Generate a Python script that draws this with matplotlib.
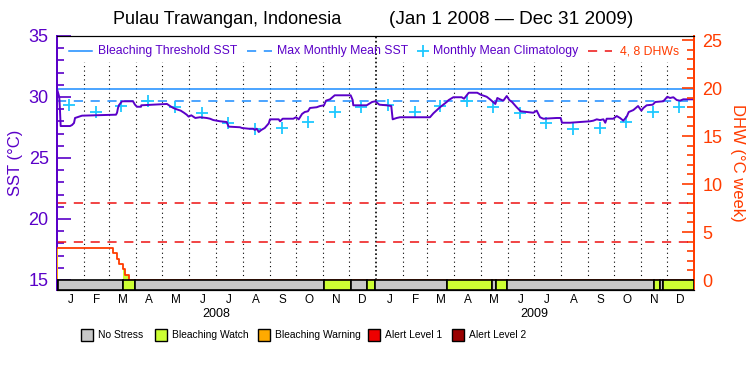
import numpy as np
import pandas as pd
import matplotlib
matplotlib.use("Agg")
import matplotlib.pyplot as plt
from matplotlib import font_manager as fm
from matplotlib.lines import Line2D
from matplotlib.patches import Rectangle
import matplotlib.transforms as mtransforms

# x = hari sejak 1 Jan 2008
sst_day = [0, 2.6, 3.4, 4.2, 14.9, 17.2, 19.5, 20.7, 28.7, 67.7, 68.9, 70.0, 71.2, 73.1, 74.6,
           87.2, 89.5, 91.8, 96.4, 96.7, 117.0, 126.2, 129.7, 133.5, 137.4, 142.0, 145.7, 148.8,
           151.1, 154.1, 156.4, 158.7, 164.1, 171.8, 175.6, 179.4, 183.3, 187.1, 194.7, 195.4,
           197.0, 210.0, 212.3, 220.0, 225.3, 226.9, 229.2, 231.5, 234.5, 238.4, 243.0, 244.4,
           254.4, 255.9, 259.0, 271.2, 274.3, 277.4, 281.2, 284.3, 288.0, 290.3, 298.0, 301.8,
           306.4, 308.7, 313.3, 318.7, 337.0, 339.3, 340.0, 355.4, 361.5, 365.3, 369.9, 378.4,
           383.6, 385.2, 389.8, 393.6, 428.0, 431.9, 439.5, 443.3, 447.2, 449.5, 454.8, 464.4,
           467.1, 472.5, 482.3, 486.2, 493.1, 496.9, 503.0, 505.3, 508.4, 512.2, 516.1, 519.1,
           522.2, 527.5, 532.1, 546.6, 550.5, 554.3, 558.1, 573.4, 578.0, 579.5, 588.7, 600.2,
           611.7, 615.5, 619.4, 623.2, 627.0, 629.2, 630.8, 638.4, 642.3, 646.1, 649.9, 653.8,
           656.1, 661.4, 666.8, 670.6, 672.9, 676.7, 683.6, 686.6, 695.8, 700.4, 703.5, 707.3,
           711.2, 715.0, 718.7, 731.0]
sst_val = [30.66, 30.00, 28.93, 27.62, 27.62, 27.70, 27.87, 28.28, 28.47, 28.55, 28.71, 29.10,
           29.34, 29.51, 29.65, 29.65, 29.37, 29.20, 29.20, 29.32, 29.40, 29.43, 29.26, 29.10,
           28.99, 28.88, 28.71, 28.55, 28.39, 28.50, 28.39, 28.28, 28.34, 28.28, 28.22, 28.11,
           28.06, 28.01, 27.95, 27.84, 27.57, 27.52, 27.46, 27.40, 27.40, 27.30, 27.40, 27.13,
           27.30, 27.46, 27.84, 28.17, 28.17, 28.01, 28.22, 28.22, 28.34, 28.17, 28.61, 28.77,
           28.83, 29.10, 29.16, 29.26, 29.32, 29.70, 29.81, 30.14, 30.14, 29.75, 29.32, 29.32,
           29.59, 29.65, 29.37, 29.32, 29.26, 28.17, 28.28, 28.34, 28.34, 28.66, 29.16, 29.37,
           29.59, 29.75, 29.98, 29.98, 29.86, 30.35, 30.35, 30.19, 30.02, 29.81, 29.43, 29.92,
           29.81, 29.70, 30.08, 29.75, 29.59, 29.16, 28.83, 28.71, 28.88, 28.34, 28.22, 28.28,
           28.28, 27.89, 27.89, 27.95, 28.01, 28.06, 28.17, 28.11, 28.17, 27.89, 28.22, 28.22,
           28.44, 28.28, 28.06, 28.39, 28.77, 28.93, 29.26, 28.88, 29.10, 29.32, 29.37, 29.59,
           29.65, 30.02, 29.92, 29.98, 29.75, 29.70, 29.81, 29.81]

# klimatologi bulanan (Jan..Des), diulang tiap tahun
clim_sst = [29.32, 28.80, 29.30, 29.69, 29.18, 28.71, 27.87, 27.40, 27.48, 27.98, 28.80, 29.16]
mmm_sst = 29.68
threshold_sst = 30.68

# dhw (step)
dhw_day = [0, 64.3, 68.9, 71.2, 75.7, 78.0, 82.6, 731]
dhw_val = [3.33, 2.80, 2.20, 1.67, 1.15, 0.52, 0.0, 0.0]
dhw_levels = [4, 8]

# status alert per periode
status_start = [0, 1.0, 75.7, 89.5, 306.4, 337.4, 355.7, 365.0, 447.6, 499.2, 503.8, 516.4, 685.1, 692.0, 695.5]
status_level = [2, 0, 1, 0, 1, 0, 1, 0, 1, 0, 1, 0, 1, 0, 1]
alert_labels = ["No Stress", "Bleaching Watch", "Bleaching Warning", "Alert Level 1", "Alert Level 2"]
alert_colors = ["#c8c8c8", "#ccff33", "#ffaa00", "#ee0000", "#990000"]

month_letters = ["J", "F", "M", "A", "M", "J", "J", "A", "S", "O", "N", "D"]
years = ["2008", "2009"]

PURPLE = "#5a00c8"
BLUE = "#1a8cff"
CYAN = "#1ec8ff"
RED = "#ee1111"
ORANGE = "#ff3c00"

names = {f.name for f in fm.fontManager.ttflist}
REG = "Liberation Sans" if "Liberation Sans" in names else "DejaVu Sans"

W, H = 750, 375
fig = plt.figure(figsize=(7.5, 3.75), dpi=100)
ax = fig.add_axes([57 / W, 1 - 290 / H, (694 - 57) / W, (290 - 36) / H])
ax2 = ax.twinx()

t0 = pd.Timestamp("2008-01-01")
xmax = (pd.Timestamp("2010-01-01") - t0).days
ax.set_xlim(0, xmax)
ax.set_ylim(14.18, 35)
ax2.set_ylim(-1.04, 25.42)

# garis bulan (dotted)
mstart = pd.date_range("2008-01-01", "2009-12-01", freq="MS")
mday = np.array((mstart - t0).days)
mlen = np.array(mstart.days_in_month)
for d, ts in zip(mday[1:], mstart[1:]):
    if ts.month == 1:
        ax.vlines(d, 15, 35, colors="black", linestyles=(0, (1, 1.5)), linewidth=1.2, zorder=1)
    else:
        ax.vlines(d, 15, 32.9, colors="black", linestyles=(0, (1, 3)), linewidth=0.8, zorder=1)

ax.axhline(threshold_sst, color=BLUE, lw=1.1, zorder=2)
ax.axhline(mmm_sst, color=BLUE, lw=1.1, ls=(0, (6, 5)), zorder=2)
for lv in dhw_levels:
    ax2.axhline(lv, color=RED, lw=1.1, ls=(0, (6, 5)), zorder=2)

clim_x = mday + 14
clim_y = [clim_sst[ts.month - 1] for ts in mstart]
ax.plot(clim_x, clim_y, ls="none", marker="+", ms=9, mew=1.3, color=CYAN, zorder=3)
ax.plot(sst_day, sst_val, color=PURPLE, lw=1.4, zorder=4)

# dhw + isi warna sesuai status
status_end = status_start[1:] + [xmax]
dd = np.array(dhw_day)
dv = np.array(dhw_val)
for s, e, lv in zip(status_start, status_end, status_level):
    if lv == 0:
        continue
    inner = dd[(dd > s) & (dd < e)]
    xs = np.concatenate([[s], inner, [e]])
    ys = dv[np.searchsorted(dd, xs, side="right") - 1]
    ax2.fill_between(xs, 0, ys, step="post", facecolor=alert_colors[lv], lw=0, zorder=3)
ax2.step(dhw_day, dhw_val, where="post", color=ORANGE, lw=1.3, zorder=4)

# bar status di bawah (di ax2 biar nutup garis dhw = 0)
ybot = ax2.get_ylim()[0]
for s, e, lv in zip(status_start, status_end, status_level):
    ax2.add_patch(Rectangle((s, ybot), e - s, -ybot, facecolor=alert_colors[lv],
                            edgecolor="black", lw=1.2, zorder=5))

# sumbu
ax.set_yticks([15, 20, 25, 30, 35])
ax.set_yticks(np.arange(15, 35, 1), minor=True)
ax.tick_params(axis="y", which="major", direction="in", length=10, width=1.2, color=PURPLE,
               labelcolor=PURPLE, labelsize=13, pad=6)
ax.tick_params(axis="y", which="minor", direction="in", length=5, width=1.2, color=PURPLE)
ax2.set_yticks([0, 5, 10, 15, 20, 25])
ax2.set_yticks(np.arange(0, 26, 1), minor=True)
ax2.tick_params(axis="y", which="major", direction="in", length=9, width=1.2, color=ORANGE,
                labelcolor=ORANGE, labelsize=13, pad=6)
ax2.tick_params(axis="y", which="minor", direction="in", length=5, width=1.2, color=ORANGE)
for lab in ax.get_yticklabels() + ax2.get_yticklabels():
    lab.set_fontfamily(REG)

ax.set_xticks(mday + mlen / 2)
ax.set_xticklabels([month_letters[ts.month - 1] for ts in mstart], fontfamily=REG, fontsize=8.5)
ax.tick_params(axis="x", length=0, pad=3)

for a in (ax, ax2):
    a.spines["left"].set_color(PURPLE)
    a.spines["left"].set_linewidth(1.4)
    a.spines["right"].set_color(ORANGE)
    a.spines["right"].set_linewidth(1.4)
    a.spines["top"].set_color("black")
    a.spines["bottom"].set_color("black")

ax.set_ylabel("SST (°C)", color=PURPLE, fontsize=12, fontfamily=REG, labelpad=4)
ax2.set_ylabel("DHW (°C week)", color=ORANGE, fontsize=12, fontfamily=REG, rotation=-90, labelpad=16)

trans = mtransforms.blended_transform_factory(ax.transData, ax.transAxes)
for yr in years:
    mid = (pd.Timestamp(f"{yr}-07-02") - t0).days
    ax.text(mid, -24 / 254, yr, transform=trans, ha="center", va="center", fontsize=9, fontfamily=REG)

def px(x, y):
    return x / W, 1 - y / H

fig.text(*px(227, 20), "Pulau Trawangan, Indonesia", ha="center", va="center", fontsize=13, fontfamily=REG)
fig.text(*px(511, 20), "(Jan 1 2008 \u2014 Dec 31 2009)", ha="center", va="center", fontsize=13.7, fontfamily=REG)

# legenda atas
ly = 51
lfs = 8.8
fig.add_artist(Line2D([69 / W, 92 / W], [1 - ly / H] * 2, color=BLUE, lw=1.1))
fig.text(*px(98, ly), "Bleaching Threshold SST", color=PURPLE, va="center", fontsize=lfs, fontfamily=REG)
fig.add_artist(Line2D([247 / W, 272 / W], [1 - ly / H] * 2, color=BLUE, lw=1.1, ls=(0, (6, 5))))
fig.text(*px(277, ly), "Max Monthly Mean SST", color=PURPLE, va="center", fontsize=lfs, fontfamily=REG)
fig.add_artist(Line2D([423 / W], [1 - ly / H], color=CYAN, marker="+", ms=9, mew=1.3, ls="none"))
fig.text(*px(433, ly), "Monthly Mean Climatology", color=PURPLE, va="center", fontsize=lfs, fontfamily=REG)
fig.add_artist(Line2D([588 / W, 612 / W], [1 - ly / H] * 2, color=RED, lw=1.1, ls=(0, (6, 5))))
fig.text(*px(620, ly), "4, 8 DHWs", color=ORANGE, va="center", fontsize=lfs, fontfamily=REG)

# legenda bawah
box_x = [81, 155, 258, 368, 452]
for bx, lab, c in zip(box_x, alert_labels, alert_colors):
    fig.add_artist(Rectangle(px(bx, 341), 12 / W, 12 / H, facecolor=c, edgecolor="black", lw=1.0,
                             transform=fig.transFigure))
    fig.text(*px(bx + 17, 335), lab, va="center", fontsize=7.4, fontfamily=REG)

fig.savefig("out.png", dpi=100)
